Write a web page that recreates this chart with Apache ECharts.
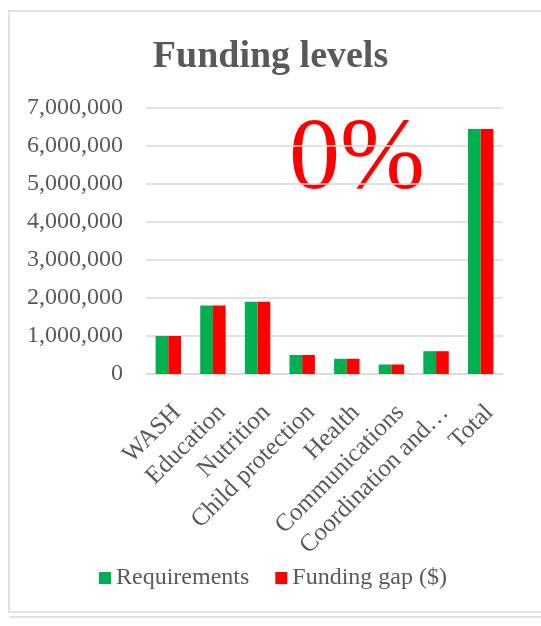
<!DOCTYPE html>
<html>
<head>
<meta charset="utf-8">
<script src="https://cdn.jsdelivr.net/npm/echarts@6/dist/echarts.min.js"></script>
<style>
  html, body { margin: 0; padding: 0; background: #ffffff; }
  #chart { width: 541px; height: 626px; }
</style>
</head>
<body>
<div id="chart"></div>
<script>
// data
const categories = ['WASH', 'Education', 'Nutrition', 'Child protection', 'Health', 'Communications', 'Coordination and…', 'Total']
const requirements = [1000000, 1800000, 1900000, 500000, 400000, 250000, 600000, 6450000]
const fundingGap = [1000000, 1800000, 1900000, 500000, 400000, 250000, 600000, 6450000]
const fundedLabel = '0%'

const font = '"Liberation Serif", "DejaVu Serif", serif'
const grey = '#595959'

let myChart = echarts.init(document.getElementById('chart'))
let option = {
  backgroundColor: '#FFFFFF',
  animation: false,
  title: {
    text: 'Funding levels',
    left: 'center',
    top: 33,
    textStyle: {
      fontFamily: font,
      fontSize: 38,
      fontWeight: 'bold',
      color: grey
    }
  },
  graphic: [
    {
      type: 'rect',
      shape: { x: 9, y: 11, width: 545, height: 601 },
      style: { fill: 'none', stroke: '#d9d9d9', lineWidth: 1.5 },
      silent: true
    },
    {
      type: 'line',
      shape: { x1: 9, y1: 617, x2: 541, y2: 617 },
      style: { stroke: '#d9d9d9', lineWidth: 1.5 },
      silent: true
    },
    {
      type: 'text',
      x: 357,
      y: 161,
      style: {
        text: fundedLabel,
        font: '102px ' + font,
        fill: '#FF0000',
        textAlign: 'center',
        textVerticalAlign: 'middle'
      },
      silent: true
    }
  ],
  legend: {
    data: [
      { name: 'Requirements', icon: 'rect' },
      { name: 'Funding gap ($)', icon: 'rect' }
    ],
    left: 94,
    top: 561,
    itemWidth: 12,
    itemHeight: 12,
    itemGap: 26,
    textStyle: {
      fontFamily: font,
      fontSize: 24,
      color: grey
    }
  },
  grid: {
    left: 146,
    right: 38,
    top: 108,
    bottom: 252
  },
  xAxis: {
    type: 'category',
    data: categories,
    axisLine: {
      lineStyle: { color: '#d9d9d9', width: 1.5 }
    },
    axisTick: { show: false },
    axisLabel: {
      interval: 0,
      rotate: 45,
      margin: 26,
      verticalAlign: 'top',
      fontFamily: font,
      fontSize: 25,
      color: grey
    }
  },
  yAxis: {
    type: 'value',
    min: 0,
    max: 7000000,
    interval: 1000000,
    axisLine: { show: false },
    axisTick: { show: false },
    splitLine: {
      lineStyle: { color: '#d9d9d9', width: 1.5 }
    },
    axisLabel: {
      margin: 23,
      fontFamily: font,
      fontSize: 24,
      color: grey,
      formatter: function (val) {
        return val.toLocaleString('en-US')
      }
    }
  },
  series: [
    {
      name: 'Requirements',
      type: 'bar',
      data: requirements,
      barGap: '0%',
      barCategoryGap: '43%',
      itemStyle: { color: '#00B050' }
    },
    {
      name: 'Funding gap ($)',
      type: 'bar',
      data: fundingGap,
      itemStyle: { color: '#FF0000' }
    }
  ]
}
myChart.setOption(option)
</script>
</body>
</html>
